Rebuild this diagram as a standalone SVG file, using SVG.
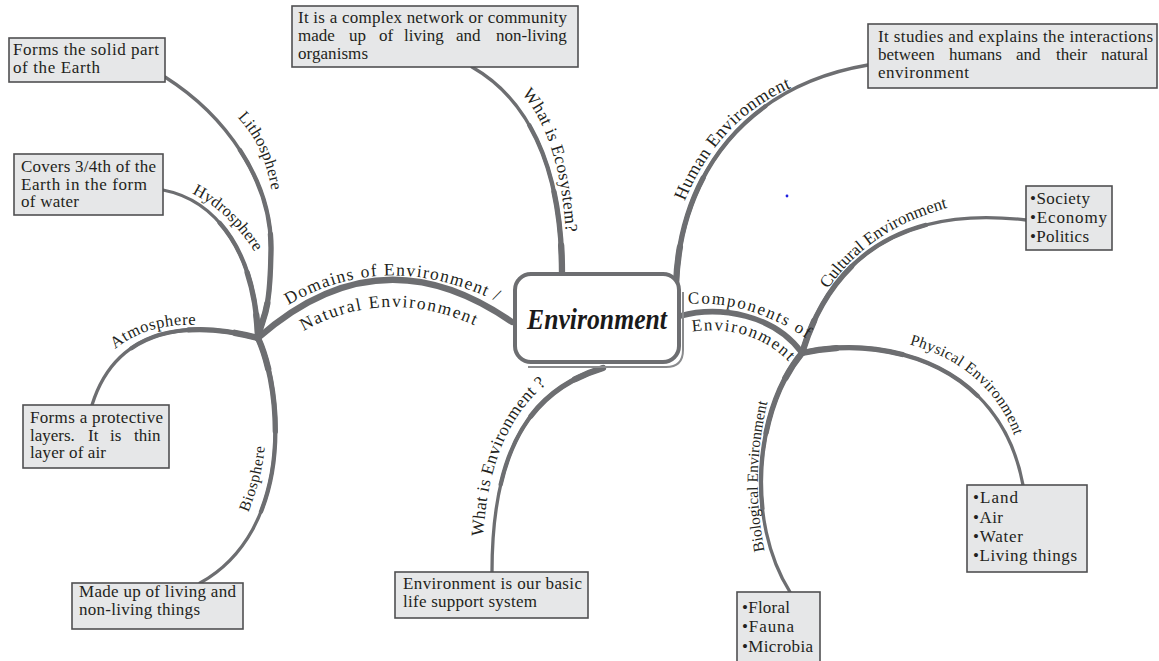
<svg xmlns="http://www.w3.org/2000/svg" xmlns:xlink="http://www.w3.org/1999/xlink" width="1159" height="661" viewBox="0 0 1159 661">
<style>
.bx{fill:#e6e7e8;stroke:#505052;stroke-width:1.6}
.bt{font-family:"Liberation Serif",serif;font-size:17px;fill:#231f20}
.lb{font-family:"Liberation Serif",serif;fill:#231f20}
.cn{fill:none;stroke:#6d6e71;stroke-linecap:round}
.w0{stroke-width:3.3}
.w1{stroke-width:4.3;stroke-dasharray:65 200}
.w2{stroke-width:5.3;stroke-dasharray:35 200}
.w3{stroke-width:6.3;stroke-dasharray:12 200}
</style>
<defs>
<path id="p-litho" pathLength="100" d="M258,338 C262,315 270,320 271,250 C272,180 225,115 165,77"/>
<path id="p-hydro" pathLength="100" d="M258,338 C255,250 215,200 163,190"/>
<path id="p-atmo" pathLength="100" d="M258,338 C210,325 120,315 92,405"/>
<path id="p-bio" pathLength="100" d="M258,338 C282,390 295,530 200,583"/>
<path id="p-eco" pathLength="100" d="M562,274 C562,170 530,100 472,67"/>
<path id="p-wenv" pathLength="100" d="M603,368 C530,390 492,450 492,572"/>
<path id="p-human" pathLength="100" d="M676,285 C680,170 750,85 868,65"/>
<path id="p-cult" pathLength="100" d="M802,353 C830,260 900,205 1026,220"/>
<path id="p-phys" pathLength="100" d="M802,353 C880,335 1000,360 1023,485"/>
<path id="p-biol" pathLength="100" d="M802,353 C755,410 745,520 790,592"/>
<path id="t-litho" d="M235,115 Q265,144 272,194"/>
<path id="t-hydro" d="M189,192 Q228,210 257,255"/>
<path id="t-atmo" d="M112,352 Q145,322 200,325"/>
<path id="t-bio" d="M247,515 Q262,480 265,444"/>
<path id="t-dom1" d="M285,307 Q385,246 500,303"/>
<path id="t-dom2" d="M300,333 Q385,284 478,327"/>
<path id="t-eco" d="M520,92 Q560,135 566,235"/>
<path id="t-wenv" d="M483,540 Q488,430 549,382"/>
<path id="t-human" d="M683,205 Q718,118 795,86"/>
<path id="t-comp1" d="M684,304 Q750,299 810,341"/>
<path id="t-comp2" d="M690,332 Q752,323 790,363"/>
<path id="t-cult" d="M826,292 Q868,228 951,207"/>
<path id="t-phys" d="M905,343 Q990,365 1016,440"/>
<path id="t-biol" d="M765,553 Q749,477 768,400"/>
</defs>
<rect width="1159" height="661" fill="#ffffff"/>

<g id="connectors">
<g class="cn">
<use href="#p-litho" class="w0"/><use href="#p-litho" class="w1"/><use href="#p-litho" class="w2"/><use href="#p-litho" class="w3"/>
<use href="#p-hydro" class="w0"/><use href="#p-hydro" class="w1"/><use href="#p-hydro" class="w2"/><use href="#p-hydro" class="w3"/>
<use href="#p-atmo" class="w0"/><use href="#p-atmo" class="w1"/><use href="#p-atmo" class="w2"/><use href="#p-atmo" class="w3"/>
<use href="#p-bio" class="w0"/><use href="#p-bio" class="w1"/><use href="#p-bio" class="w2"/><use href="#p-bio" class="w3"/>
<use href="#p-eco" class="w0"/><use href="#p-eco" class="w1"/><use href="#p-eco" class="w2"/><use href="#p-eco" class="w3"/>
<use href="#p-wenv" class="w0"/><use href="#p-wenv" class="w1"/><use href="#p-wenv" class="w2"/><use href="#p-wenv" class="w3"/>
<use href="#p-human" class="w0"/><use href="#p-human" class="w1"/><use href="#p-human" class="w2"/><use href="#p-human" class="w3"/>
<use href="#p-cult" class="w0"/><use href="#p-cult" class="w1"/><use href="#p-cult" class="w2"/><use href="#p-cult" class="w3"/>
<use href="#p-phys" class="w0"/><use href="#p-phys" class="w1"/><use href="#p-phys" class="w2"/><use href="#p-phys" class="w3"/>
<use href="#p-biol" class="w0"/><use href="#p-biol" class="w1"/><use href="#p-biol" class="w2"/><use href="#p-biol" class="w3"/>
<path d="M512,322 Q380,230 258,338" stroke-width="6.3"/>
<path d="M680,316 C720,305 775,315 802,353" stroke-width="5.6"/>
</g>
<g class="lb">
<text font-size="16.5"><textPath href="#t-litho" startOffset="50%" text-anchor="middle" textLength="82" lengthAdjust="spacing">Lithosphere</textPath></text>
<text font-size="16.5"><textPath href="#t-hydro" startOffset="50%" text-anchor="middle" textLength="87" lengthAdjust="spacing">Hydrosphere</textPath></text>
<text font-size="16.5"><textPath href="#t-atmo" startOffset="50%" text-anchor="middle" textLength="86" lengthAdjust="spacing">Atmosphere</textPath></text>
<text font-size="15.5"><textPath href="#t-bio" startOffset="50%" text-anchor="middle" textLength="68" lengthAdjust="spacing">Biosphere</textPath></text>
<text font-size="17.5"><textPath href="#t-dom1" startOffset="50%" text-anchor="middle" textLength="218" lengthAdjust="spacing">Domains of Environment /</textPath></text>
<text font-size="17.5"><textPath href="#t-dom2" startOffset="50%" text-anchor="middle" textLength="178" lengthAdjust="spacing">Natural Environment</textPath></text>
<text font-size="17.5"><textPath href="#t-eco" startOffset="50%" text-anchor="middle" textLength="148" lengthAdjust="spacing">What is Ecosystem?</textPath></text>
<text font-size="17.5"><textPath href="#t-wenv" startOffset="50%" text-anchor="middle" textLength="170" lengthAdjust="spacing">What is Environment ?</textPath></text>
<text font-size="18"><textPath href="#t-human" startOffset="50%" text-anchor="middle" textLength="160" lengthAdjust="spacing">Human Environment</textPath></text>
<text font-size="17"><textPath href="#t-comp1" startOffset="50%" text-anchor="middle" textLength="126" lengthAdjust="spacing">Components of</textPath></text>
<text font-size="17"><textPath href="#t-comp2" startOffset="50%" text-anchor="middle" textLength="105" lengthAdjust="spacing">Environment</textPath></text>
<text font-size="17"><textPath href="#t-cult" startOffset="50%" text-anchor="middle" textLength="148" lengthAdjust="spacing">Cultural Environment</textPath></text>
<text font-size="15.5"><textPath href="#t-phys" startOffset="50%" text-anchor="middle" textLength="145" lengthAdjust="spacing">Physical Environment</textPath></text>
<text font-size="15.5"><textPath href="#t-biol" startOffset="50%" text-anchor="middle" textLength="150" lengthAdjust="spacing">Biological Environment</textPath></text>
</g>
</g>

<g id="center">
<rect x="515" y="274" width="164" height="88" rx="16" fill="#ffffff" stroke="#6d6e71" stroke-width="4"/>
<path d="M528,367 H666 Q683,367 683,350 V292" fill="none" stroke="#8a8b8d" stroke-width="2"/>
<text x="597" y="329" text-anchor="middle" font-family="'Liberation Serif',serif" font-style="italic" font-weight="bold" font-size="30" fill="#1a1a1a" textLength="140" lengthAdjust="spacingAndGlyphs">Environment</text>
</g>

<g id="n-litho">
<rect class="bx" x="9" y="38" width="156" height="44"/>
<text class="bt" x="13" y="55" textLength="146" lengthAdjust="spacing">Forms the solid part</text>
<text class="bt" x="13" y="73" textLength="87" lengthAdjust="spacing">of the Earth</text>
</g>

<g id="n-hydro">
<rect class="bx" x="14" y="154" width="149" height="61"/>
<text class="bt" x="21" y="172" textLength="135" lengthAdjust="spacing">Covers 3/4th of the</text>
<text class="bt" x="21" y="190" textLength="126" lengthAdjust="spacing">Earth in the form</text>
<text class="bt" x="21" y="207" textLength="58" lengthAdjust="spacing">of water</text>
</g>

<g id="n-eco">
<rect class="bx" x="292" y="6" width="286" height="61"/>
<text class="bt" x="298" y="22.5" textLength="269" lengthAdjust="spacing">It is a complex network or community</text>
<text class="bt" y="40.5"><tspan x="298">made</tspan><tspan x="349">up</tspan><tspan x="379">of</tspan><tspan x="404">living</tspan><tspan x="456">and</tspan><tspan x="496">non-living</tspan></text>
<text class="bt" x="298" y="58.5" textLength="70" lengthAdjust="spacing">organisms</text>
</g>

<g id="n-human">
<rect class="bx" x="868" y="24" width="289" height="64"/>
<text class="bt" x="878" y="42" textLength="275" lengthAdjust="spacing">It studies and explains the interactions</text>
<text class="bt" y="60"><tspan x="878">between</tspan><tspan x="949">humans</tspan><tspan x="1016">and</tspan><tspan x="1056">their</tspan><tspan x="1101">natural</tspan></text>
<text class="bt" x="878" y="78" textLength="91" lengthAdjust="spacing">environment</text>
</g>

<g id="n-cult">
<rect class="bx" x="1026" y="186" width="86" height="64"/>
<text class="bt" x="1030" y="204" textLength="60" lengthAdjust="spacing">•Society</text>
<text class="bt" x="1030" y="223" textLength="77" lengthAdjust="spacing">•Economy</text>
<text class="bt" x="1030" y="242" textLength="59" lengthAdjust="spacing">•Politics</text>
</g>

<g id="n-atmo">
<rect class="bx" x="23" y="405" width="146" height="63"/>
<text class="bt" x="30" y="423" textLength="133" lengthAdjust="spacing">Forms a protective</text>
<text class="bt" y="441"><tspan x="30">layers.</tspan><tspan x="88">It</tspan><tspan x="110">is</tspan><tspan x="134">thin</tspan></text>
<text class="bt" x="30" y="458" textLength="76" lengthAdjust="spacing">layer of air</text>
</g>

<g id="n-bio">
<rect class="bx" x="72" y="583" width="171" height="46"/>
<text class="bt" x="79" y="597" textLength="157" lengthAdjust="spacing">Made up of living and</text>
<text class="bt" x="79" y="615" textLength="121" lengthAdjust="spacing">non-living things</text>
</g>

<g id="n-wenv">
<rect class="bx" x="395" y="572" width="193" height="46"/>
<text class="bt" x="403" y="589" textLength="179" lengthAdjust="spacing">Environment is our basic</text>
<text class="bt" x="403" y="607" textLength="134" lengthAdjust="spacing">life support system</text>
</g>

<g id="n-phys">
<rect class="bx" x="967" y="485" width="120" height="87"/>
<text class="bt" x="973" y="503" textLength="45" lengthAdjust="spacing">•Land</text>
<text class="bt" x="973" y="523" textLength="30" lengthAdjust="spacing">•Air</text>
<text class="bt" x="973" y="542" textLength="50" lengthAdjust="spacing">•Water</text>
<text class="bt" x="973" y="561" textLength="104" lengthAdjust="spacing">•Living things</text>
</g>

<g id="n-biol">
<rect class="bx" x="737" y="592" width="83" height="74"/>
<text class="bt" x="742" y="613" textLength="48" lengthAdjust="spacing">•Floral</text>
<text class="bt" x="742" y="632" textLength="52" lengthAdjust="spacing">•Fauna</text>
<text class="bt" x="742" y="652" textLength="71" lengthAdjust="spacing">•Microbia</text>
</g>

<circle cx="787" cy="196" r="1.4" fill="#2020e0"/>
</svg>
